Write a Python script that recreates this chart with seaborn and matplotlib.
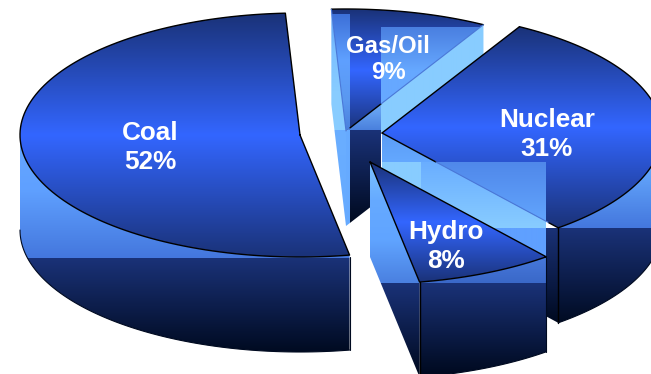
import numpy as np
import matplotlib
matplotlib.use("Agg")
import matplotlib.pyplot as plt
from matplotlib.colors import to_rgb
from matplotlib.patches import Polygon
import seaborn as sns

# Electricity generation mix, in percent, in the order the slices sweep round the pie
labels = ["Coal", "Hydro", "Nuclear", "Gas/Oil"]
shares = [52, 8, 31, 9]

sns.set_theme(style="white")
plt.rcParams["font.family"] = ["Liberation Sans", "DejaVu Sans"]

RX, RY, DEPTH = 280, 122, 95
START_ANGLE = 93
CENTRES = {"Coal": (300, 135), "Hydro": (370, 162), "Nuclear": (382, 133), "Gas/Oil": (346, 131)}
TEXT_SPOTS = {"Coal": (150, 140, 169, 18.8), "Hydro": (446, 239, 268, 18.8),
              "Nuclear": (547, 127, 156, 18.8), "Gas/Oil": (388, 53, 79, 17.2)}

DARK, BRIGHT, PALE = "#1a3278", "#3366ff", "#88ccff"
NEAR_BLACK = "#000a20"
EDGE_BLUE = "#4a78d8"

fig = plt.figure(figsize=(6.51, 3.74), dpi=100, facecolor="white")
ax = fig.add_axes([0, 0, 1, 1])
z = [1]


def next_z():
    z[0] += 1
    return z[0]


def arc(cx, cy, a0, a1, n=120):
    t = np.radians(np.linspace(a0, a1, n))
    return np.column_stack([cx + RX * np.cos(t), cy - RY * np.sin(t)])


def fill(poly, stops, xr=(0, 651), yr=(0, 374)):
    """Paint a vertical colour ramp inside a polygon, limited to a box."""
    ys = np.linspace(yr[0], yr[1], max(int(yr[1] - yr[0]) * 2, 2))
    pos = [s[0] for s in stops]
    cols = np.array([to_rgb(s[1]) for s in stops])
    ramp = np.stack([np.interp(ys, pos, cols[:, i]) for i in range(3)], axis=1)
    im = ax.imshow(ramp[:, None, :], extent=[xr[0], xr[1], yr[1], yr[0]],
                   aspect="auto", interpolation="bilinear", zorder=next_z())
    im.set_clip_path(Polygon(poly, closed=True, transform=ax.transData))


def stroke(pts, color="black", lw=1.0):
    pts = np.asarray(pts)
    ax.plot(pts[:, 0], pts[:, 1], color=color, lw=lw, zorder=next_z(),
            solid_joinstyle="round", solid_capstyle="round")


# Slice angles follow from the shares
spans = {}
angle = START_ANGLE
for name, share in zip(labels, shares):
    spans[name] = (angle, angle + share * 3.6)
    angle += share * 3.6


def top_face(name):
    cx, cy = CENTRES[name]
    return np.vstack([[cx, cy], arc(cx, cy, *spans[name])])


def wall(name, a0, a1):
    cx, cy = CENTRES[name]
    a = arc(cx, cy, a0, a1)
    return np.vstack([a, a[::-1] + [0, DEPTH]])


def cut(name, a):
    cx, cy = CENTRES[name]
    p = arc(cx, cy, a, a, 1)[0]
    return np.array([[cx, cy], p, p + [0, DEPTH], [cx, cy + DEPTH]])


def face_stops(name):
    f = top_face(name)
    y0, y1 = f[:, 1].min(), f[:, 1].max()
    return [(y0, DARK), ((y0 + y1) / 2, BRIGHT), (y1, DARK)]


# Gas/Oil
gas = top_face("Gas/Oil")
gas_cx, gas_cy = CENTRES["Gas/Oil"]
g0, g1 = spans["Gas/Oil"]
fill(gas, face_stops("Gas/Oil"))
fill(gas, [(14, "#3d70d8"), (60, "#5fa0ff"), (100, "#5a98f0"), (130, "#4a80dd")], xr=(329, 350), yr=(14, 130))
fill(gas, [(27, "#4a7fe0"), (70, "#66a8ff"), (132, "#66a8ff")], xr=(381, 490), yr=(27, 132))
right_cut = cut("Gas/Oil", g0)
left_cut = cut("Gas/Oil", g1)
fill(right_cut, [(20, PALE), (132, PALE)], xr=(381, 490), yr=(20, 132))
fill(right_cut, [(100, "#72aef8"), (112, "#64a0f0"), (130, "#4a80dd")], xr=(344, 381), yr=(20, 130))
fill(right_cut, [(130, DARK), (222, NEAR_BLACK)], xr=(350, 381), yr=(130, 230))
fill(right_cut, [(130, "#66aaff"), (230, "#66aaff")], xr=(344, 350), yr=(130, 230))
fill(left_cut, [(9, "#5a9cf5"), (50, "#7cc0ff"), (90, PALE), (130, PALE)], xr=(325, 350), yr=(9, 130))
fill(left_cut, [(130, "#6aaeff"), (230, "#66aaff")], xr=(325, 350), yr=(130, 230))
stroke(arc(gas_cx, gas_cy, g0, g1))
corner = arc(gas_cx, gas_cy, g0, g0, 1)[0]
t = lambda x: [x, gas_cy + (corner[1] - gas_cy) * (x - gas_cx) / (corner[0] - gas_cx)]
stroke([t(350), t(381)])
stroke([t(381), corner], EDGE_BLUE, 0.8)
stroke([[gas_cx, gas_cy], arc(gas_cx, gas_cy, g1, g1, 1)[0]], EDGE_BLUE, 0.8)

# Nuclear
nuc = top_face("Nuclear")
n0, n1 = spans["Nuclear"]
nuc_cx, nuc_cy = CENTRES["Nuclear"]
ncut = cut("Nuclear", n0)
ncorner = ncut[1]
fill(ncut, [(132, "#5a9cf5"), (162, "#64a8ff")], xr=(381, 560), yr=(132, 162))
fill(ncut, [(162, PALE), (228, PALE)], xr=(370, 421), yr=(162, 228))
fill(ncut, [(162, "#6aaeff"), (228, PALE)], xr=(421, 546), yr=(162, 228))
fill(ncut, [(228, "#5fa0ff"), (283, "#5fa0ff")], xr=(370, 546), yr=(228, 283))
fill(ncut, [(228, DARK), (322, NEAR_BLACK)], xr=(546, 560), yr=(228, 330))
nwall = wall("Nuclear", n0, 360)
fill(nwall, [(165, "#66aaff"), (228, "#4477dd")], yr=(130, 228))
fill(nwall, [(228, DARK), (325, NEAR_BLACK)], yr=(228, 330))
fill(nuc, face_stops("Nuclear"))
fill(nuc, [(162, "#5088ea"), (228, "#64a8ff")], xr=(370, 546), yr=(162, 228))
stroke(arc(nuc_cx, nuc_cy, n0, n1))
stroke([[nuc_cx, nuc_cy], arc(nuc_cx, nuc_cy, n1, n1, 1)[0]])
m = lambda y: [nuc_cx + (ncorner[0] - nuc_cx) * (y - nuc_cy) / (ncorner[1] - nuc_cy), y]
stroke([[nuc_cx, nuc_cy], m(162)])
stroke([m(162), m(ncorner[1] - 5)], EDGE_BLUE, 0.8)
stroke([m(ncorner[1] - 5), ncorner])
stroke([ncorner, ncorner + [0, DEPTH]])
stroke(arc(nuc_cx, nuc_cy + DEPTH, n0, 360), "#000a20", 0.8)

# Hydro
hyd = top_face("Hydro")
h0, h1 = spans["Hydro"]
hyd_cx, hyd_cy = CENTRES["Hydro"]
hcut = cut("Hydro", h0)
hwall = wall("Hydro", h0, h1)
hyd_dark = [(283, DARK), (374, NEAR_BLACK)]
fill(hcut, [(162, "#7cc4ff"), (200, "#66aaff"), (240, "#60a4ff"), (283, "#4a80e0")], yr=(162, 283))
fill(hwall, [(250, "#4a7de0"), (283, "#3a68c8")], yr=(250, 283))
for shape in (hcut, hwall):
    fill(shape, hyd_dark, yr=(283, 374))
fill(hyd, face_stops("Hydro"))
stroke(np.vstack([hyd, hyd[:1]]))
stroke([hcut[1], hcut[2]])
stroke(arc(hyd_cx, hyd_cy + DEPTH, h0, h1), "#000a20", 0.8)
stroke([hwall[len(hwall) // 2 - 1], hwall[len(hwall) // 2]], "#000a20", 0.8)

# Coal
coal = top_face("Coal")
c0, c1 = spans["Coal"]
coal_cx, coal_cy = CENTRES["Coal"]
cwall = wall("Coal", 180, c1)
fill(cwall, [(135, "#66a8ff"), (190, "#5fa0ff"), (258, "#4477dd")], yr=(135, 258))
fill(cwall, [(258, DARK), (353, NEAR_BLACK)], yr=(258, 355))
fill(coal, face_stops("Coal"))
stroke(np.vstack([coal, coal[:1]]))
stroke(arc(coal_cx, coal_cy + DEPTH, 180, c1), "#000a20", 0.8)
stroke([arc(coal_cx, coal_cy, c1, c1, 1)[0] + [0, 2], arc(coal_cx, coal_cy, c1, c1, 1)[0] + [0, DEPTH]], "#000a20", 0.8)

# Slice captions
for name, share in zip(labels, shares):
    x, y_name, y_pct, size = TEXT_SPOTS[name]
    ax.text(x, y_name, name, color="white", fontsize=size, fontweight="bold",
            ha="center", va="baseline", zorder=next_z())
    ax.text(x, y_pct, f"{share}%", color="white", fontsize=size, fontweight="bold",
            ha="center", va="baseline", zorder=next_z())

ax.set_xlim(0, 651)
ax.set_ylim(374, 0)
ax.axis("off")
fig.savefig("out.png", dpi=100, facecolor="white")
